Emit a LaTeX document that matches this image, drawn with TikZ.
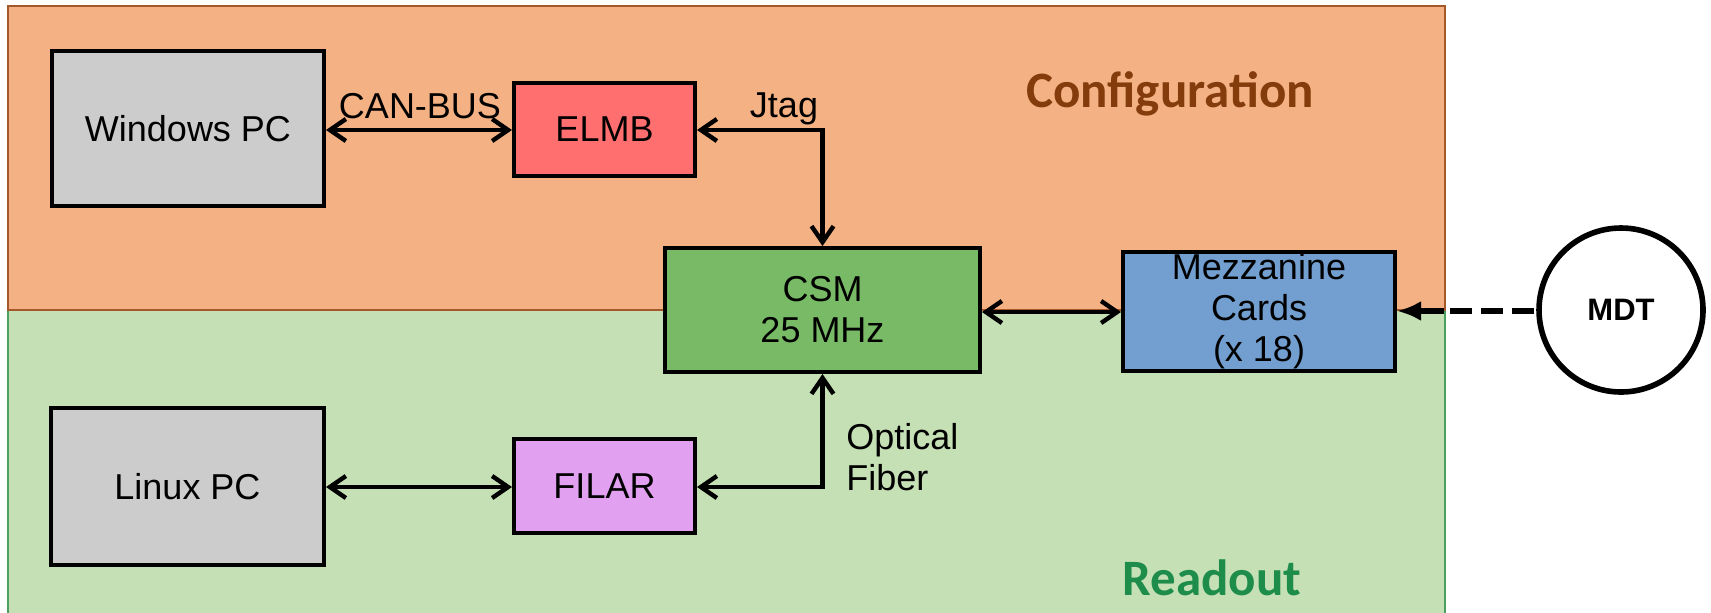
\documentclass[tikz,border=0pt]{standalone}
\usepackage{fontspec}
\setmainfont{Liberation Sans}
\newfontfamily\carl{Carlito}
\usetikzlibrary{arrows.meta}
\definecolor{orfill}{HTML}{F4B183}
\definecolor{orbrd}{HTML}{A5582A}
\definecolor{grfill}{HTML}{C5E0B4}
\definecolor{grbrd}{HTML}{4CA05F}
\definecolor{pcgray}{HTML}{CCCCCC}
\definecolor{elmbred}{HTML}{FF6F6F}
\definecolor{csmgreen}{HTML}{78BA65}
\definecolor{mezzblue}{HTML}{729FCF}
\definecolor{filarpink}{HTML}{E1A0F0}
\definecolor{conftext}{HTML}{843C0C}
\definecolor{readtext}{HTML}{1E8C4B}
\begin{document}
\begin{tikzpicture}[x=0.5pt,y=-0.5pt,
  box/.style={draw=black,line width=2pt,inner sep=0pt,align=center,
    font=\fontsize{18}{20.5}\selectfont},
  lbl/.style={inner sep=0pt,font=\fontsize{18}{20.5}\selectfont},
  barb/.tip={Straight Barb[length=8pt,width=11pt]},
  link/.style={line width=2.2pt,barb-barb},
  region/.style={line width=1pt},
  title/.style={inner sep=0pt,anchor=base,font=\carl\bfseries\fontsize{25.5}{30}\selectfont}]
\useasboundingbox (0,0) rectangle (1711,612);
\fill[white] (0,0) rectangle (1711,612);
% regions
\draw[region,draw=grbrd,fill=grfill] (8,310) rectangle (1445,640);
\draw[region,draw=orbrd,fill=orfill] (8,6) rectangle (1445,310);
\node[title,text=conftext] (conf) at (1170,107) {Configuration};
\node[title,text=readtext] (read) at (1212,595) {Readout};
% boxes
\node[box,fill=pcgray,minimum width=136pt,minimum height=77.5pt] (wpc) at (188,128.5) {Windows PC};
\node[box,fill=elmbred,minimum width=90.5pt,minimum height=46.5pt] (elmb) at (604.5,129.5) {ELMB};
\node[box,fill=csmgreen,minimum width=157.5pt,minimum height=62pt] (csm) at (822.5,310) {CSM\\25 MHz};
\node[box,fill=mezzblue,minimum width=136pt,minimum height=59.5pt] (mezz) at (1259,311.5) {Mezzanine\\Cards\\(x 18)};
\node[box,fill=pcgray,minimum width=136.5pt,minimum height=78.5pt] (lpc) at (187.5,486.5) {Linux PC};
\node[box,fill=filarpink,minimum width=90.5pt,minimum height=47pt] (filar) at (604.5,486) {FILAR};
\node[circle,draw=black,line width=2.8pt,fill=white,minimum size=82pt,inner sep=0pt,
  font=\bfseries\fontsize{15.5}{18}\selectfont] (mdt) at (1621,310) {MDT};
% labels
\node[lbl,anchor=base] (canbus) at (420,118) {CAN-BUS};
\node[lbl,anchor=base] (jtag) at (784,117) {Jtag};
\node[lbl,anchor=west,align=left] (optic) at (846,457) {Optical\\Fiber};
% connectors
\draw[link] (wpc.east |- 0,130) -- (elmb.west |- 0,130);
\draw[link] (elmb.east |- 0,130) -| (csm.north);
\draw[link] (csm.east |- 0,312) -- (mezz.west |- 0,312);
\draw[link] (lpc.east |- 0,487) -- (filar.west |- 0,487);
\draw[link] (filar.east |- 0,487) -| (csm.south);
\coordinate (edge) at (1444,311);
\draw[line width=3.4pt,dash pattern=on 11pt off 4.5pt,dash phase=14.5pt] (mdt.west |- 0,311) -- (edge);
\draw[line width=3.4pt,-{Latex[length=12pt,width=10pt]}] (edge) -- (mezz.east |- 0,311);
\end{tikzpicture}
\end{document}
